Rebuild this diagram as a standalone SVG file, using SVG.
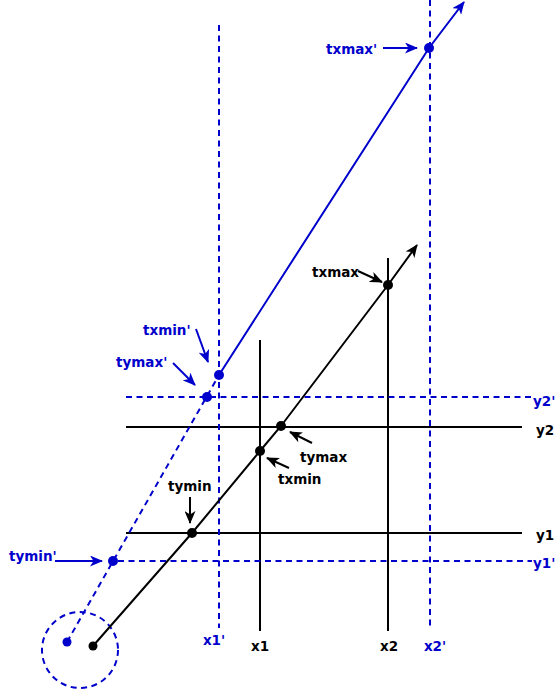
<svg xmlns="http://www.w3.org/2000/svg" width="558" height="693" viewBox="0 0 558 693">
<defs>
<marker id="ak" viewBox="0 0 13 11" refX="12" refY="5.5" markerWidth="13" markerHeight="11" markerUnits="userSpaceOnUse" orient="auto"><path d="M0,0 L13,5.5 L0,11 L3.5,5.5 z" fill="#000"/></marker>
<marker id="abl" viewBox="0 0 13 11" refX="12" refY="5.5" markerWidth="13" markerHeight="11" markerUnits="userSpaceOnUse" orient="auto"><path d="M0,0 L13,5.5 L0,11 L3.5,5.5 z" fill="#0000CC"/></marker>
</defs>
<style>
.k{stroke:#000;stroke-width:2;fill:none}
.b{stroke:#0000CC;stroke-width:2;fill:none}
.d{stroke-dasharray:6 4.5}
.dk{fill:#000}
.db{fill:#0000CC}
text{font-family:"DejaVu Sans",Verdana,sans-serif;font-weight:bold;font-size:13.5px}
.tk{fill:#000}
.tb{fill:#0000CC}
</style>
<rect width="558" height="693" fill="#fff"/>
<g id="grid">
<line class="k" x1="260" y1="340" x2="260" y2="631"/>
<line class="k" x1="388" y1="258" x2="388" y2="631"/>
<line class="k" x1="126" y1="427" x2="522" y2="427"/>
<line class="k" x1="126" y1="533" x2="522" y2="533"/>
<line class="b d" x1="219" y1="25" x2="219" y2="628"/>
<line class="b d" x1="430" y1="0" x2="430" y2="628"/>
<line class="b d" x1="126" y1="397" x2="532" y2="397"/>
<line class="b d" x1="118" y1="561" x2="532" y2="561"/>
<circle class="b d" cx="80" cy="650" r="38"/>
</g>
<g id="connectors">
<path class="b d" d="M67,642 L219,375"/>
<path class="b" d="M219,375 L429,48 L464,2" marker-end="url(#abl)"/>
<path class="k" d="M93,646 L192,533 L260,451 L281,426 L388,285 L417,245" marker-end="url(#ak)"/>
<path class="b" d="M383,48 L417,48" marker-end="url(#abl)"/>
<path class="b" d="M196,329 L208,362" marker-end="url(#abl)"/>
<path class="b" d="M173,363 L195,385" marker-end="url(#abl)"/>
<path class="b" d="M55,561 L102,561" marker-end="url(#abl)"/>
<path class="k" d="M358,271 L382,282" marker-end="url(#ak)"/>
<path class="k" d="M312,443 L290,432" marker-end="url(#ak)"/>
<path class="k" d="M289,468 L267,458" marker-end="url(#ak)"/>
<path class="k" d="M190,497 L190,523" marker-end="url(#ak)"/>
</g>
<g id="points">
<circle class="dk" cx="93" cy="646" r="4.5"/>
<circle class="dk" cx="192" cy="533" r="5"/>
<circle class="dk" cx="260" cy="451" r="5"/>
<circle class="dk" cx="281" cy="426" r="5"/>
<circle class="dk" cx="388" cy="285" r="5"/>
<circle class="db" cx="67" cy="642" r="4.5"/>
<circle class="db" cx="113" cy="561" r="5"/>
<circle class="db" cx="207" cy="397" r="5"/>
<circle class="db" cx="219" cy="375" r="5"/>
<circle class="db" cx="429" cy="48" r="5"/>
</g>
<g id="labels">
<text class="tb" x="326" y="54">txmax'</text>
<text class="tb" x="143" y="335">txmin'</text>
<text class="tb" x="116" y="367">tymax'</text>
<text class="tb" x="9" y="561">tymin'</text>
<text class="tk" x="312" y="277">txmax</text>
<text class="tk" x="300" y="462">tymax</text>
<text class="tk" x="278" y="484">txmin</text>
<text class="tk" x="168" y="491">tymin</text>
<text class="tb" x="214" y="645" text-anchor="middle">x1'</text>
<text class="tk" x="260" y="651" text-anchor="middle">x1</text>
<text class="tk" x="389" y="651" text-anchor="middle">x2</text>
<text class="tb" x="435" y="651" text-anchor="middle">x2'</text>
<text class="tk" x="536" y="435">y2</text>
<text class="tk" x="536" y="540">y1</text>
<text class="tb" x="533" y="406">y2'</text>
<text class="tb" x="533" y="568">y1'</text>
</g>
</svg>
